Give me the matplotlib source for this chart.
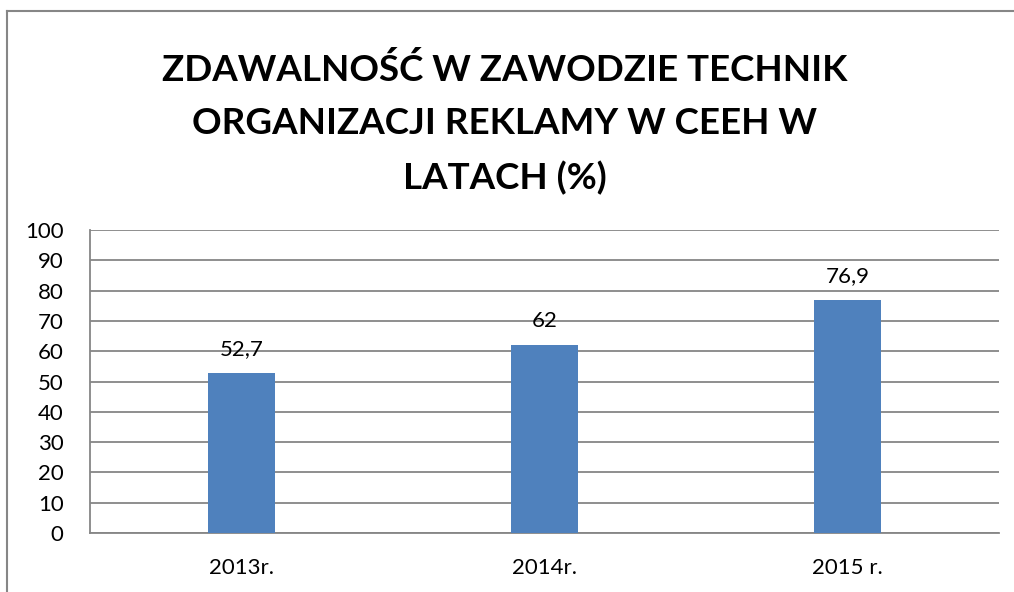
import matplotlib.pyplot as plt
from matplotlib.lines import Line2D

# dane
lata = ['2013r.', '2014r.', '2015 r.']
zdawalnosc = [52.7, 62, 76.9]
etykiety = ['52,7', '62', '76,9']
tytul = 'ZDAWALNOŚĆ W ZAWODZIE TECHNIK\nORGANIZACJI REKLAMY W CEEH W\nLATACH (%)'

plt.rcParams['font.family'] = ['Lato', 'DejaVu Sans']
szary = '#868686'
niebieski = '#4F81BD'

fig = plt.figure(figsize=(10.14, 5.92), dpi=100)
ax = fig.add_axes([90 / 1014, 59 / 592, 909 / 1014, 303 / 592])

x = range(len(lata))
ax.bar(x, zdawalnosc, width=0.22, color=niebieski, zorder=3)
for i, (v, t) in enumerate(zip(zdawalnosc, etykiety)):
    ax.annotate(t, (i, v), xytext=(0, 10), textcoords='offset points',
                ha='center', va='bottom', fontsize=16, color='black')

ax.set_xlim(-0.5, 2.5)
ax.set_ylim(0, 100)
ax.set_yticks(range(0, 101, 10))
ax.set_xticks(list(x))
ax.set_xticklabels(lata)
ax.tick_params(axis='both', length=0, labelsize=16, colors='black')
ax.tick_params(axis='y', pad=19)
ax.tick_params(axis='x', pad=18)
ax.grid(axis='y', color=szary, linewidth=1.3, zorder=0)
for s in ['top', 'right']:
    ax.spines[s].set_visible(False)
for s in ['left', 'bottom']:
    ax.spines[s].set_color(szary)
    ax.spines[s].set_linewidth(1.3)

fig.text(505 / 1014, 1 - 124 / 592, tytul, ha='center', va='center',
         fontsize=26.5, fontweight='bold', linespacing=1.75)

# ramka wykresu (widoczna tylko z lewej i u gory)
fig.add_artist(Line2D([7 / 1014, 7 / 1014], [0, 1 - 11 / 592], color=szary, linewidth=1.5))
fig.add_artist(Line2D([7 / 1014, 1], [1 - 11 / 592, 1 - 11 / 592], color=szary, linewidth=1.5))

fig.savefig('out.png', dpi=100, facecolor='white')
